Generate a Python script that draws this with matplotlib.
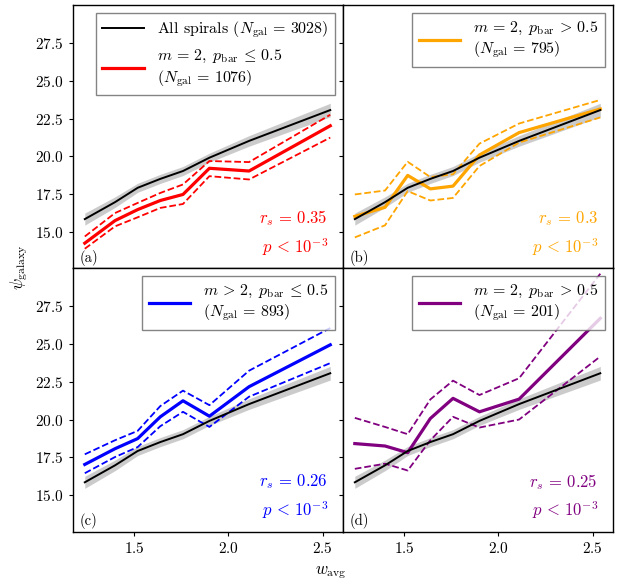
import matplotlib
matplotlib.use('Agg')
import matplotlib.pyplot as plt
import numpy as np

plt.rcParams.update({
    'font.family': 'serif',
    'font.serif': ['cmr10'],
    'mathtext.fontset': 'cm',
    'axes.formatter.use_mathtext': True,
    'font.size': 11,
    'axes.linewidth': 1.0,
    'xtick.major.size': 3,
    'ytick.major.size': 3,
})

# data
w_avg = [1.24, 1.40, 1.52, 1.64, 1.76, 1.90, 2.11, 2.54]

all_psi = [15.86, 16.98, 17.93, 18.52, 19.04, 19.92, 21.03, 23.07]
all_err = [0.40, 0.35, 0.30, 0.30, 0.30, 0.30, 0.35, 0.45]

a_mid = [14.27, 15.76, 16.49, 17.09, 17.49, 19.22, 19.04, 22.03]
a_hi = [14.71, 16.26, 16.93, 17.59, 18.15, 19.70, 19.63, 22.76]
a_lo = [13.90, 15.38, 15.98, 16.60, 16.86, 18.70, 18.48, 21.25]

b_mid = [16.04, 16.64, 18.75, 17.86, 18.04, 20.10, 21.58, 23.14]
b_hi = [17.49, 17.75, 19.65, 18.64, 18.82, 20.85, 22.18, 23.74]
b_lo = [14.65, 15.45, 17.71, 17.09, 17.26, 19.37, 20.92, 22.58]

c_mid = [17.04, 18.08, 18.75, 20.19, 21.25, 20.23, 22.18, 24.95]
c_hi = [17.71, 18.64, 19.26, 20.90, 21.92, 20.96, 23.24, 26.06]
c_lo = [16.46, 17.53, 18.19, 19.57, 20.52, 19.52, 21.52, 23.74]

d_mid = [18.42, 18.26, 17.82, 20.08, 21.41, 20.52, 21.36, 26.70]
d_hi = [20.12, 19.52, 19.04, 21.34, 22.58, 21.63, 22.74, 29.65]
d_lo = [16.75, 17.09, 16.64, 18.64, 20.19, 19.48, 20.01, 24.18]

panels = [
    ('a', a_mid, a_hi, a_lo, 'red', r'$m\,=\,2,\; p_{\rm bar}\,\leq\,0.5$' + '\n' + r'$(N_{\rm gal}\,=\,1076)$', '0.35'),
    ('b', b_mid, b_hi, b_lo, 'orange', r'$m\,=\,2,\; p_{\rm bar}\,>\,0.5$' + '\n' + r'$(N_{\rm gal}\,=\,795)$', '0.3'),
    ('c', c_mid, c_hi, c_lo, 'blue', r'$m\,>\,2,\; p_{\rm bar}\,\leq\,0.5$' + '\n' + r'$(N_{\rm gal}\,=\,893)$', '0.26'),
    ('d', d_mid, d_hi, d_lo, 'purple', r'$m\,=\,2,\; p_{\rm bar}\,>\,0.5$' + '\n' + r'$(N_{\rm gal}\,=\,201)$', '0.25'),
]

fig, axes = plt.subplots(2, 2, figsize=(6.24, 5.81), sharex=True, sharey=True)
fig.subplots_adjust(left=0.1165, right=0.982, top=0.991, bottom=0.085, wspace=0, hspace=0)

x = np.array(w_avg)
lo_all = np.array(all_psi) - np.array(all_err)
hi_all = np.array(all_psi) + np.array(all_err)

for ax, (tag, mid, hi, lo, col, lab, rs) in zip(axes.flat, panels):
    ax.fill_between(x, lo_all, hi_all, color='0.6', alpha=0.5, lw=0, zorder=1)
    l_all, = ax.plot(x, all_psi, color='black', lw=1.4, zorder=3,
                     label=r'All spirals $(N_{\rm gal}\,=\,3028)$')
    l_sub, = ax.plot(x, mid, color=col, lw=2.3, zorder=2, label=lab)
    ax.plot(x, hi, color=col, lw=1.3, ls='--', zorder=2)
    ax.plot(x, lo, color=col, lw=1.3, ls='--', zorder=2)

    handles = [l_all, l_sub] if tag == 'a' else [l_sub]
    leg = ax.legend(handles=handles, loc='upper right', fancybox=False,
                    edgecolor='0.4', fontsize=11.5, handlelength=2.6)
    leg.get_frame().set_linewidth(1.0)

    ax.text(0.945, 0.19, r'$r_s\,=\,%s$' % rs, color=col, transform=ax.transAxes,
            ha='right', va='center', fontsize=12)
    ax.text(0.945, 0.08, r'$p\,<\,10^{-3}$', color=col, transform=ax.transAxes,
            ha='right', va='center', fontsize=12)
    ax.text(0.025, 0.04, '(%s)' % tag, transform=ax.transAxes,
            ha='left', va='center', fontsize=10.5)

ax0 = axes[0, 0]
ax0.set_xlim(1.176, 2.606)
ax0.set_ylim(12.6, 30.0)
ax0.set_xticks([1.5, 2.0, 2.5])
ax0.set_yticks([15.0, 17.5, 20.0, 22.5, 25.0, 27.5])

fig.text(0.03, 0.54, r'$\psi_{\rm galaxy}$', rotation=90, ha='center', va='center', fontsize=12)
fig.text(0.53, 0.015, r'$w_{\rm avg}$', ha='center', va='center', fontsize=12)

plt.savefig('out.png', dpi=100)
